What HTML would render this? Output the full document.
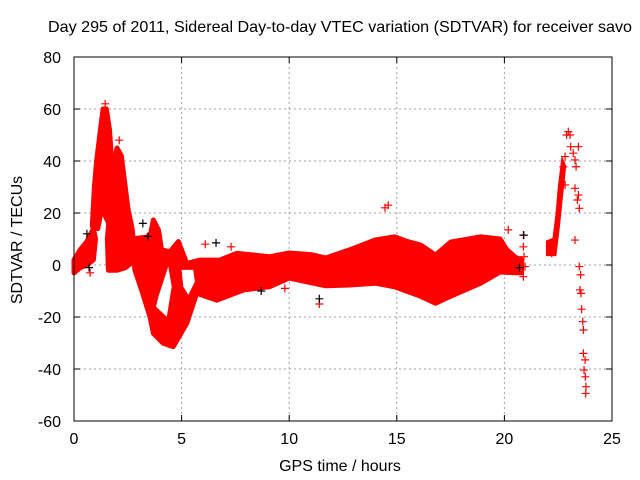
<!DOCTYPE html>
<html><head><meta charset="utf-8"><style>
body{margin:0;background:#fff}
svg{display:block;font-family:"Liberation Sans",sans-serif}
</style></head><body>
<svg id="chart" width="640" height="480">
<rect width="640" height="480" fill="#fff"/>
<text x="340" y="32" text-anchor="middle" font-size="16" textLength="584" lengthAdjust="spacingAndGlyphs" fill="#000">Day 295 of 2011, Sidereal Day-to-day VTEC variation (SDTVAR) for receiver savo</text>
<text x="340" y="471" text-anchor="middle" font-size="16">GPS time / hours</text>
<text transform="translate(22,240) rotate(-90)" text-anchor="middle" font-size="16">SDTVAR / TECUs</text>
<g id="grid"></g>
<g id="ticks"></g>
<g id="marks"></g>
<g id="marks2"></g>
<rect x="74" y="57" width="538" height="364" fill="none" stroke="#000" stroke-width="1"/>
</svg>
<script>
const xTicks=[0,5,10,15,20,25];
const yTicks=[-60,-40,-20,0,20,40,60,80];
// region outlines: [hours, TECU]
const blobA=[[0,-3],[0,2],[0.3,6],[0.6,9],[0.9,14],[1.0,10],[0.9,2],[0.6,0],[0.3,-1]];
const spike1=[[0.85,15],[0.95,30],[1.05,40],[1.2,50],[1.35,60],[1.5,60],[1.65,52],[1.75,40],[1.8,25],[1.7,15],[1.5,18],[1.3,22],[1.1,14]];
const spike2=[[1.6,-2],[1.55,10],[1.7,25],[1.85,38],[2.0,45],[2.2,42],[2.35,32],[2.5,22],[2.7,14],[2.85,2],[2.4,-1],[2.0,-2]];
const bandTop=[[2.7,10],[3.53,10.9],[3.69,17.3],[3.92,13.5],[4.07,5.8],[4.46,5.1],[4.85,9.0],[5.24,0.6],[5.86,1.9],[6.78,1.9],[7.56,4.5],[9.1,3.2],[10,4.6],[11,4],[11.7,2.7],[12.8,5.8],[14,9.6],[14.9,10.8],[15.5,9],[16.1,7.7],[16.8,3.8],[17.5,8.8],[18.9,10.8],[19.8,10],[20.1,6],[20.5,3],[20.8,2]];
const bandBottom=[[20.8,-3],[20.5,-3],[19.8,-2.7],[18.9,-7],[17.5,-12],[16.8,-14.7],[16.1,-12],[14.9,-8.4],[14,-7],[12.8,-7.7],[11.7,-8],[10,-5],[9.1,-8.3],[7.87,-9.6],[6.63,-13.5],[5.7,-10.9],[5.24,-22.4],[4.61,-31.4],[4.15,-30.1],[3.69,-26.3],[3.53,-19.9],[3.14,-9.6],[2.83,-1.9]];
const hole1=[[3.92,-12.2],[4.38,-0.6],[4.54,-8.3],[4.31,-19.9],[3.81,-16]];
const hole2=[[5.0,-1.9],[5.54,-1.9],[5.62,-6.4],[5.31,-11.5],[5.08,-8.3]];
const lateBand=[[22.0,4],[22.0,9],[22.3,10],[22.45,20],[22.55,30],[22.7,40],[22.8,38],[22.65,26],[22.5,14],[22.35,4]];
const scatterH=[22.97,22.89,23.05,23.08,23.44,22.82,23.2,23.28,23.33,22.74,22.82,23.28,23.44,23.39,23.48,23.28,23.48,23.54,23.51,23.56,23.59,23.64,23.67,23.67,23.75,23.7,23.76,23.79,23.78,20.88,20.88,20.91,20.96,20.88,20.18,22.2,14.45,14.6,11.4,1.45,1.4,2.1,0.75,3.55,6.1,7.3,9.8];
const scatterV=[51.3,50,50,45.5,45.5,41.7,43,40.4,37.8,37.8,30.8,29.5,26.9,25,21.8,9.6,-0.6,-3.8,-9.6,-10.9,-17,-21.8,-25,-34,-36.5,-40.4,-43,-46.8,-49.4,11.5,7,3.2,-0.6,-4.5,13.5,4.5,22,23,-15,62,56,48,-3,12,8,7,-9];
const blackH=[6.6,0.7,3.2,3.44,8.7,20.7,20.9,0.6,11.4];
const blackV=[8.5,-1,16,11,-10,-1,11.5,12,-13];

const X0=74,X1=612,Y0=421,Y1=57;
const xs=h=>X0+(h-0)/(25-0)*(X1-X0);
const ys=v=>Y0-(v+60)/(140)*(Y0-Y1);
const NS='http://www.w3.org/2000/svg';
function mk(tag,parent,attrs){const e=document.createElementNS(NS,tag);for(const k in attrs)e.setAttribute(k,attrs[k]);parent.appendChild(e);return e;}
const grid=document.getElementById('grid'),ticks=document.getElementById('ticks');
xTicks.forEach(t=>{const x=xs(t);
 if(t>0&&t<25){const l=mk('line',grid,{x1:x,x2:x,y1:Y1,y2:Y0,stroke:'#a0a0a0','stroke-dasharray':'2,3'});
 
 }
 mk('line',ticks,{x1:x,x2:x,y1:Y0,y2:Y0-6,stroke:'#000'});mk('line',ticks,{x1:x,x2:x,y1:Y1,y2:Y1+6,stroke:'#000'});
 const tx=mk('text',ticks,{x:x,y:444,'text-anchor':'middle','font-size':'16'});tx.textContent=t;
 
 });
yTicks.forEach(t=>{const y=ys(t);
 if(t>-60&&t<80){const l=mk('line',grid,{x1:X0,x2:X1,y1:y,y2:y,stroke:'#a0a0a0','stroke-dasharray':'2,3'});
 
 }
 mk('line',ticks,{x1:X0,x2:X0+6,y1:y,y2:y,stroke:'#000'});mk('line',ticks,{x1:X1,x2:X1-6,y1:y,y2:y,stroke:'#000'});
 const tx=mk('text',ticks,{x:61,y:y+6,'text-anchor':'end','font-size':'16'});tx.textContent=t;
 
 });
const marks=document.getElementById('marks'),marks2=document.getElementById('marks2');
const pts=a=>a.map(p=>xs(p[0]).toFixed(1)+','+ys(p[1]).toFixed(1)).join(' ');
[blobA,spike1,spike2,bandTop.concat(bandBottom)].forEach(reg=>{
 const p=mk('polygon',marks,{points:pts(reg),fill:'#f00',stroke:'#f00','stroke-width':5,'stroke-linejoin':'round'});
 
 });
[hole1,hole2].forEach(hh=>{const p=mk('polygon',marks,{points:pts(hh),fill:'#fff'});
 
 });
const lb=mk('polygon',marks,{points:pts(lateBand),fill:'#f00',stroke:'#f00','stroke-width':3});


function plus(g,x,y,c,name){const p=mk('path',g,{d:`M${x-4},${y}h8M${x},${y-4}v8`,stroke:c,'stroke-width':1.2,fill:'none'});
 
 }
scatterH.forEach((h,i)=>plus(marks,xs(h),ys(scatterV[i]),'#f00','red-point'));
blackH.forEach((h,i)=>plus(marks2,xs(h),ys(blackV[i]),'#000','black-point'));
</script>
</body></html>
